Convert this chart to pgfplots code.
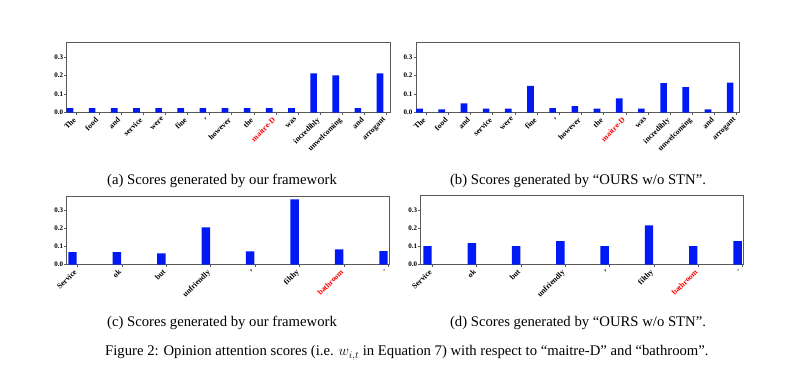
\documentclass[border=0pt]{standalone}
\usepackage{pgfplots}
\pgfplotsset{compat=1.18}
\usepackage{fontspec}
\setmainfont{Liberation Serif}
\definecolor{barblue}{RGB}{0,25,245}
\definecolor{axgray}{RGB}{90,90,90}
\pgfplotsset{
  panel/.style={
    anchor=south west, scale only axis,
    ybar, ymin=0, ymax=0.378,
    ytick={0,0.1,0.2,0.3}, yticklabels={0.0,0.1,0.2,0.3},
    tick pos=left, tick align=outside, major tick length=2.5pt,
    axis line style={axgray, line width=0.9pt},
    tick style={axgray, line width=0.6pt},
    y tick label style={font=\fontsize{7}{8}\selectfont\bfseries, inner sep=1pt},
    x tick label style={font=\fontsize{7.8}{8}\selectfont\bfseries, xshift=-4pt, rotate=45, anchor=north east, inner sep=1pt},
  },
  bars/.style={fill=barblue, draw=none},
}
\begin{document}
\begin{tikzpicture}
\path[use as bounding box] (0pt,0pt) rectangle (800pt,380pt);
% (a)
\begin{axis}[panel, at={(66.7pt,267.3pt)}, width=323.3pt, height=70pt,
  bar width=0.3, xmin=-0.15, xmax=14.45,
  xtick={0.3,1.3,2.3,3.3,4.3,5.3,6.3,7.3,8.3,9.3,10.3,11.3,12.3,13.3,14.3},
  xticklabels={The,food,and,service,were,fine,{,},however,the,\textcolor{red}{maitre-D},was,incredibly,unwelcoming,and,arrogant}]
\addplot[bars] coordinates {(0,0.025) (1,0.025) (2,0.025) (3,0.025) (4,0.025) (5,0.025) (6,0.025) (7,0.025) (8,0.025) (9,0.025) (10,0.025) (11,0.212) (12,0.202) (13,0.025) (14,0.212)};
\end{axis}
% (b)
\begin{axis}[panel, at={(416pt,267.3pt)}, width=323pt, height=70pt,
  bar width=0.3, xmin=-0.16, xmax=14.4,
  xtick={0.3,1.3,2.3,3.3,4.3,5.3,6.3,7.3,8.3,9.3,10.3,11.3,12.3,13.3,14.3},
  xticklabels={The,food,and,service,were,fine,{,},however,the,\textcolor{red}{maitre-D},was,incredibly,unwelcoming,and,arrogant}]
\addplot[bars] coordinates {(0,0.022) (1,0.018) (2,0.051) (3,0.022) (4,0.022) (5,0.145) (6,0.025) (7,0.035) (8,0.022) (9,0.078) (10,0.022) (11,0.160) (12,0.138) (13,0.018) (14,0.162)};
\end{axis}
% (c)
\begin{axis}[panel, at={(66.7pt,115.3pt)}, width=322.6pt, height=68.7pt,
  bar width=0.19, xmin=-0.13, xmax=7.13,
  xtick={0.11,1.11,2.11,3.11,4.11,5.11,6.11,7.11},
  xticklabels={Service,ok,but,unfriendly,{,},filthy,\textcolor{red}{bathroom},.}]
\addplot[bars] coordinates {(0,0.069) (1,0.069) (2,0.062) (3,0.205) (4,0.073) (5,0.360) (6,0.085) (7,0.075)};
\end{axis}
% (d)
\begin{axis}[panel, at={(420.7pt,115.3pt)}, width=322.6pt, height=69pt,
  bar width=0.19, xmin=-0.154, xmax=7.13,
  xtick={0.11,1.11,2.11,3.11,4.11,5.11,6.11,7.11},
  xticklabels={Service,ok,but,unfriendly,{,},filthy,\textcolor{red}{bathroom},.}]
\addplot[bars] coordinates {(0,0.102) (1,0.118) (2,0.102) (3,0.129) (4,0.102) (5,0.216) (6,0.102) (7,0.129)};
\end{axis}
\begin{scope}[every node/.style={font=\fontsize{14.7}{17}\selectfont, inner sep=0pt}]
\node[anchor=base] at (222pt,195pt) {(a) Scores generated by our framework};
\node[anchor=base] at (578pt,195pt) {(b) Scores generated by “OURS w/o STN”.};
\node[anchor=base] at (222pt,53pt) {(c) Scores generated by our framework};
\node[anchor=base] at (578pt,53pt) {(d) Scores generated by “OURS w/o STN”.};
\node[anchor=base west] at (105pt,24pt) {Figure 2: Opinion attention scores (i.e. $w_{i,t}$ in Equation 7) with respect to “maitre-D” and “bathroom”.};
\end{scope}
\end{tikzpicture}
\end{document}
